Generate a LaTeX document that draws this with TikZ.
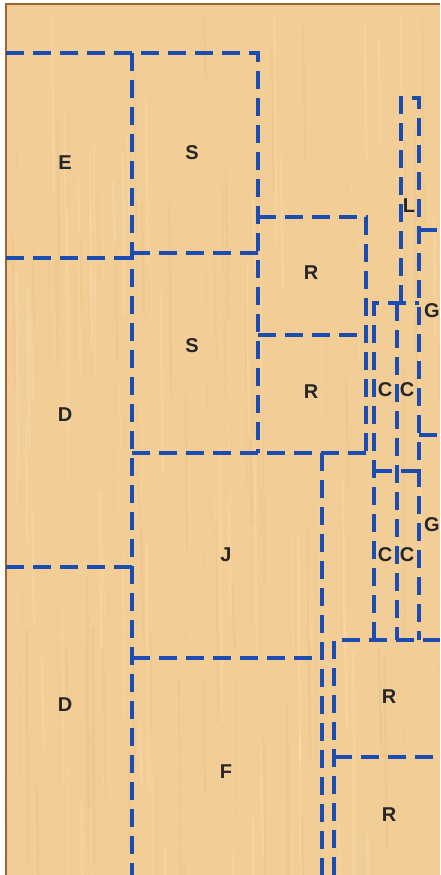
\documentclass[tikz,border=0pt]{standalone}
\usepackage{fontspec}
\setmainfont{Liberation Sans}
\definecolor{wood}{RGB}{243,205,150}
\definecolor{woodlight}{RGB}{250,222,176}
\definecolor{wooddark}{RGB}{226,182,122}
\definecolor{edge}{RGB}{160,100,45}
\definecolor{cutblue}{RGB}{26,76,178}
\tikzset{
  cut/.style={draw=cutblue, line width=3.4pt, dash pattern=on 18pt off 9pt},
  part/.style={font=\fontsize{20}{22}\selectfont\bfseries, text=black!85, inner sep=0pt},
}
\begin{document}
\begin{tikzpicture}[x=1pt,y=-1pt]
\useasboundingbox (0,0) rectangle (440,875);
\fill[white] (0,0) rectangle (440,875);
\fill[wood] (6,4) rectangle (440,875);
% grain
\pgfmathsetseed{11}
\begin{scope}
\clip (6,4) rectangle (440,875);
\foreach \i in {1,...,140}{
  \pgfmathsetmacro{\gx}{6+rnd*434}
  \pgfmathsetmacro{\gy}{rnd*875}
  \pgfmathsetmacro{\gl}{60+rnd*220}
  \pgfmathsetmacro{\gw}{0.6+rnd*2.5}
  \pgfmathsetmacro{\gc}{rnd}
  \ifdim\gc pt<0.5pt
    \draw[woodlight, opacity=0.4, line width=\gw pt] (\gx,\gy) -- (\gx+2,\gy+\gl);
  \else
    \draw[wooddark, opacity=0.2, line width=\gw pt] (\gx,\gy) -- (\gx+2,\gy+\gl);
  \fi
}
\end{scope}
\draw[edge, line width=1.6pt] (6,875) -- (6,4) -- (440,4);
% cut lines
\draw[cut] (6,53) -- (258,53) -- (258,453);
\draw[cut] (132,53) -- (132,875);
\draw[cut] (6,258) -- (132,258);
\draw[cut] (132,253) -- (258,253);
\draw[cut] (6,567) -- (132,567);
\draw[cut] (132,658) -- (322,658);
\draw[cut] (132,453) -- (366,453);
\draw[cut] (258,217) -- (366,217) -- (366,453);
\draw[cut] (258,335) -- (366,335);
\draw[cut] (322,453) -- (322,875);
\draw[cut] (401,303) -- (401,98) -- (419,98) -- (419,640);
\draw[cut] (374,640) -- (374,303) -- (419,303);
\draw[cut] (397,303) -- (397,640);
\draw[cut] (374,471) -- (419,471);
\draw[cut] (334,875) -- (334,640) -- (440,640);
\draw[cut] (334,757) -- (440,757);
\draw[cut] (419,230) -- (440,230);
\draw[cut] (419,435) -- (440,435);
% labels
\node[part] (e) at (65,163) {E};
\node[part] (s1) at (192,153) {S};
\node[part] (s2) at (192,346) {S};
\node[part] (d1) at (65,415) {D};
\node[part] (d2) at (65,705) {D};
\node[part] (r1) at (311,273) {R};
\node[part] (r2) at (311,392) {R};
\node[part] (l) at (409,206) {L};
\node[part] (g1) at (432,311) {G};
\node[part] (g2) at (432,525) {G};
\node[part] (c1) at (385,390) {C};
\node[part] (c2) at (407,390) {C};
\node[part] (c3) at (385,555) {C};
\node[part] (c4) at (407,555) {C};
\node[part] (j) at (226,555) {J};
\node[part] (f) at (226,772) {F};
\node[part] (r3) at (389,697) {R};
\node[part] (r4) at (389,815) {R};
\end{tikzpicture}
\end{document}
